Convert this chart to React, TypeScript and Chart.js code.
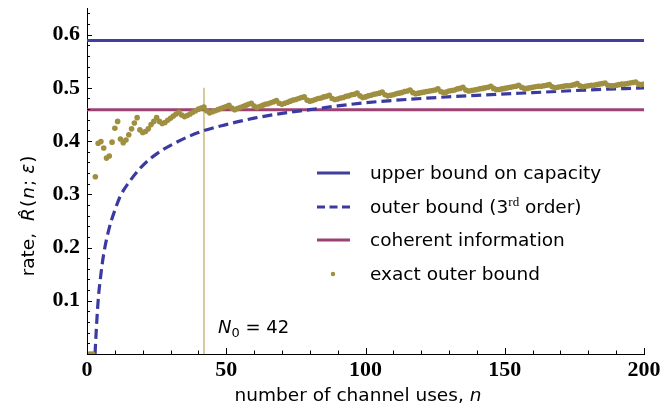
import React, { useEffect, useRef } from "react";
import { Chart, registerables } from "chart.js";

Chart.register(...registerables);

// ---------- data ----------
const channelUses = Array.from({ length: 200 }, (_, i) => i + 1);
const exactOuterBound = [
  0, 0, 0.333, 0.396, 0.399, 0.387, 0.368, 0.372, 0.398, 0.424,
  0.437, 0.404, 0.397, 0.402, 0.412, 0.423, 0.434, 0.444, 0.421, 0.416,
  0.418, 0.423, 0.431, 0.437, 0.444, 0.437, 0.433, 0.435, 0.439, 0.443,
  0.447, 0.451, 0.454, 0.449, 0.446, 0.448, 0.451, 0.454, 0.457, 0.46,
  0.462, 0.464, 0.457, 0.453, 0.455, 0.457, 0.459, 0.461, 0.463, 0.465,
  0.467, 0.462, 0.459, 0.461, 0.463, 0.465, 0.467, 0.469, 0.471, 0.466,
  0.463, 0.465, 0.467, 0.469, 0.47, 0.472, 0.474, 0.476, 0.471, 0.469,
  0.471, 0.473, 0.475, 0.477, 0.478, 0.48, 0.482, 0.483, 0.477, 0.475,
  0.476, 0.478, 0.48, 0.481, 0.483, 0.484, 0.486, 0.48, 0.478, 0.479,
  0.481, 0.482, 0.484, 0.485, 0.487, 0.488, 0.49, 0.485, 0.482, 0.483,
  0.485, 0.486, 0.488, 0.489, 0.49, 0.492, 0.487, 0.485, 0.486, 0.487,
  0.489, 0.49, 0.491, 0.493, 0.494, 0.496, 0.491, 0.489, 0.49, 0.491,
  0.492, 0.493, 0.494, 0.495, 0.496, 0.498, 0.493, 0.491, 0.492, 0.494,
  0.495, 0.496, 0.498, 0.499, 0.501, 0.496, 0.494, 0.495, 0.496, 0.497,
  0.498, 0.499, 0.5, 0.501, 0.503, 0.499, 0.497, 0.497, 0.498, 0.499,
  0.5, 0.501, 0.502, 0.503, 0.505, 0.501, 0.499, 0.499, 0.5, 0.501,
  0.502, 0.503, 0.503, 0.504, 0.505, 0.506, 0.502, 0.5, 0.501, 0.502,
  0.503, 0.504, 0.504, 0.505, 0.506, 0.508, 0.504, 0.502, 0.503, 0.504,
  0.505, 0.505, 0.506, 0.507, 0.508, 0.509, 0.505, 0.504, 0.504, 0.505,
  0.506, 0.507, 0.507, 0.508, 0.509, 0.51, 0.511, 0.507, 0.506, 0.507,
];
const outerBoundN = [2.9, 3, 4, 5, 6, 8, 10, 12, 15, 20, 25, 30, 40, 50, 60, 70, 80, 90, 100, 120, 140, 160, 180, 200];
const outerBoundRate = [0, 0.012, 0.1, 0.15, 0.188, 0.237, 0.27, 0.297, 0.322, 0.354, 0.376, 0.392, 0.416, 0.431, 0.443, 0.452, 0.459, 0.466, 0.472, 0.48, 0.486, 0.491, 0.496, 0.5];
const capacityUpperBound = 0.589;
const coherentInformation = 0.459;
const N0 = 42;
const N0LineTop = 0.5;
const xTickLabels = [0, 50, 100, 150, 200];
const yTickLabels = [0.1, 0.2, 0.3, 0.4, 0.5, 0.6];

// ---------- styles ----------
const BLUE = "#3f3f9c";
const BLUE_DASH = "#3b3aa0";
const PURPLE = "#9c4272";
const OLIVE = "#9f8f40";
const VLINE = "#c9ba7c";
const SANS = '"DejaVu Sans"';
const TICK_FONT = { family: '"Liberation Serif"', size: 22, weight: "bold" as const };

type Seg = { t: string; f: string; dy?: number; gap?: number };

function segWidth(ctx: CanvasRenderingContext2D, segs: Seg[]) {
  let w = 0;
  for (const s of segs) {
    ctx.font = s.f;
    w += ctx.measureText(s.t).width + (s.gap || 0);
  }
  return w;
}
function drawSegs(ctx: CanvasRenderingContext2D, segs: Seg[], x: number, y: number) {
  let cx = x;
  for (const s of segs) {
    ctx.font = s.f;
    ctx.fillText(s.t, cx, y + (s.dy || 0));
    cx += ctx.measureText(s.t).width + (s.gap || 0);
  }
}

const decorPlugin = {
  id: "decor",
  afterDraw(chart: any) {
    const ctx: CanvasRenderingContext2D = chart.ctx;
    const xs = chart.scales.x;
    const ys = chart.scales.y;
    const area = chart.chartArea;
    ctx.save();
    // inward ticks
    ctx.strokeStyle = "#000";
    ctx.lineWidth = 1;
    ctx.beginPath();
    for (let i = 0; i <= 32; i++) {
      const v = i * 0.02;
      const py = Math.round(ys.getPixelForValue(v)) + 0.5;
      const len = i % 5 === 0 ? 5 : 3;
      ctx.moveTo(area.left, py);
      ctx.lineTo(area.left + len, py);
    }
    for (let i = 0; i <= 20; i++) {
      const v = i * 10;
      const px = Math.round(xs.getPixelForValue(v)) + 0.5;
      const len = i % 5 === 0 ? 6 : 3.5;
      ctx.moveTo(px, area.bottom);
      ctx.lineTo(px, area.bottom - len);
    }
    ctx.stroke();

    ctx.fillStyle = "#000";
    ctx.textBaseline = "alphabetic";
    const nf = `18.5px ${SANS}`;
    const itf = `italic 18.5px ${SANS}`;

    // x title
    const xt: Seg[] = [
      { t: "number of channel uses, ", f: nf },
      { t: "n", f: itf },
    ];
    const xw = segWidth(ctx, xt);
    drawSegs(ctx, xt, 358 - xw / 2, 401);

    // y title
    const yt: Seg[] = [
      { t: "rate,", f: nf, gap: 12 },
      { t: "R\u0302", f: itf, gap: 1 },
      { t: "(", f: nf, gap: 1 },
      { t: "n", f: itf, gap: 1 },
      { t: ";", f: nf, gap: 6 },
      { t: "\u03b5", f: itf, gap: 1 },
      { t: ")", f: nf },
    ];
    const yw = segWidth(ctx, yt);
    ctx.save();
    ctx.translate(34, 216);
    ctx.rotate(-Math.PI / 2);
    drawSegs(ctx, yt, -yw / 2, 0);
    ctx.restore();

    // N0 label
    const nl: Seg[] = [
      { t: "N", f: `italic 18px ${SANS}` },
      { t: "0", f: `13px ${SANS}`, dy: 4, gap: 0 },
      { t: " = 42", f: `18px ${SANS}` },
    ];
    drawSegs(ctx, nl, 218, 333);
    ctx.restore();
  },
};

function LegendRow({ y, sample, children }: { y: number; sample: React.ReactNode; children: React.ReactNode }) {
  return (
    <>
      <svg style={{ position: "absolute", left: 315, top: y - 6, width: 40, height: 12, overflow: "visible" }}>
        {sample}
      </svg>
      <div
        style={{
          position: "absolute",
          left: 370,
          top: y - 12,
          height: 24,
          lineHeight: "24px",
          fontFamily: SANS,
          fontSize: "18.5px",
          color: "#000",
          whiteSpace: "nowrap",
        }}
      >
        {children}
      </div>
    </>
  );
}

function Legend() {
  return (
    <div style={{ position: "absolute", left: 0, top: 0, width: 665, height: 410, pointerEvents: "none" }}>
      <LegendRow y={173} sample={<line x1={2} y1={6} x2={35} y2={6} stroke={BLUE} strokeWidth={3} />}>
        upper bound on capacity
      </LegendRow>
      <LegendRow
        y={207}
        sample={<line x1={2} y1={6} x2={35} y2={6} stroke={BLUE_DASH} strokeWidth={3} strokeDasharray="8 4.5" />}
      >
        outer bound (3
        <span style={{ fontFamily: '"Liberation Serif"', fontSize: "13px", position: "relative", top: -7 }}>rd</span>{" "}
        order)
      </LegendRow>
      <LegendRow y={240} sample={<line x1={2} y1={6} x2={35} y2={6} stroke={PURPLE} strokeWidth={3} />}>
        coherent information
      </LegendRow>
      <LegendRow y={274} sample={<circle cx={18} cy={6} r={2.2} fill={OLIVE} />}>
        exact outer bound
      </LegendRow>
    </div>
  );
}

export default function App() {
  const ref = useRef<HTMLCanvasElement>(null);
  useEffect(() => {
    document.body.style.margin = "0";
    const canvas = ref.current;
    if (!canvas) return;
    const chart = new Chart(canvas, {
      type: "line",
      data: {
        datasets: [
          {
            label: "exact outer bound",
            data: channelUses.map((n, i) => ({ x: n, y: exactOuterBound[i] })),
            showLine: false,
            pointRadius: 2.8,
            pointBorderWidth: 0,
            pointBackgroundColor: OLIVE,
            borderColor: OLIVE,
            order: 0,
          },
          {
            label: "outer bound (3rd order)",
            data: outerBoundN.map((n, i) => ({ x: n, y: outerBoundRate[i] })),
            borderColor: BLUE_DASH,
            borderWidth: 3.2,
            borderDash: [10, 5],
            pointRadius: 0,
            cubicInterpolationMode: "monotone",
            order: 1,
          },
          {
            label: "upper bound on capacity",
            data: [
              { x: 0, y: capacityUpperBound },
              { x: 200, y: capacityUpperBound },
            ],
            borderColor: BLUE,
            borderWidth: 3,
            pointRadius: 0,
            order: 2,
          },
          {
            label: "coherent information",
            data: [
              { x: 0, y: coherentInformation },
              { x: 200, y: coherentInformation },
            ],
            borderColor: PURPLE,
            borderWidth: 3,
            pointRadius: 0,
            order: 2,
          },
          {
            label: "N0",
            data: [
              { x: N0, y: 0 },
              { x: N0, y: N0LineTop },
            ],
            borderColor: VLINE,
            borderWidth: 1.5,
            pointRadius: 0,
            order: 3,
          },
        ],
      },
      options: {
        responsive: false,
        animation: false,
        layout: { padding: { top: 8, right: 21, left: 0, bottom: 0 } },
        plugins: { legend: { display: false }, tooltip: { enabled: false } },
        scales: {
          x: {
            type: "linear",
            min: 0,
            max: 200,
            grid: { display: false, drawTicks: false },
            border: { display: true, color: "#000", width: 1 },
            ticks: { font: TICK_FONT, color: "#000", padding: 3, maxRotation: 0, autoSkip: false },
            afterBuildTicks: (s: any) => {
              s.ticks = xTickLabels.map((v) => ({ value: v }));
            },
            afterFit: (s: any) => {
              s.height = 56;
              s.paddingLeft = 0;
              s.paddingRight = 0;
              s.paddingTop = 0;
              s.paddingBottom = 0;
            },
          },
          y: {
            type: "linear",
            min: 0,
            max: 0.65,
            grid: { display: false, drawTicks: false },
            border: { display: true, color: "#000", width: 1 },
            ticks: {
              font: TICK_FONT,
              color: "#000",
              padding: 7,
              autoSkip: false,
              callback: (v: any) => Number(v).toFixed(1),
            },
            afterBuildTicks: (s: any) => {
              s.ticks = yTickLabels.map((v) => ({ value: v }));
            },
            afterFit: (s: any) => {
              s.width = 87;
              s.paddingLeft = 0;
              s.paddingRight = 0;
              s.paddingTop = 0;
              s.paddingBottom = 0;
            },
          },
        },
      } as any,
      plugins: [decorPlugin],
    });
    return () => chart.destroy();
  }, []);
  return (
    <div style={{ position: "relative", width: 665, height: 410 }}>
      <canvas ref={ref} width={665} height={410} style={{ display: "block", width: 665, height: 410 }} />
      <Legend />
    </div>
  );
}
